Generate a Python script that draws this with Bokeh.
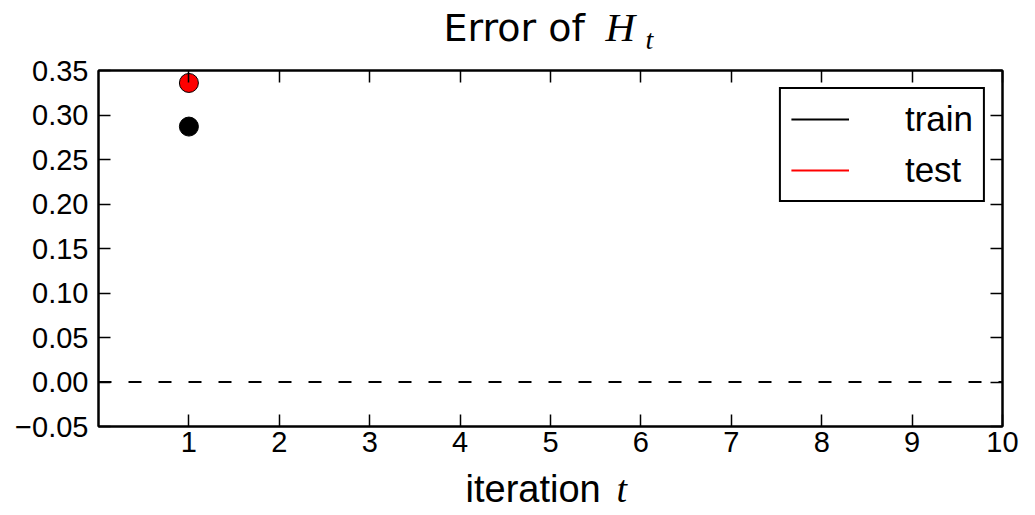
from bokeh.plotting import figure
from bokeh.layouts import column
from bokeh.models import (Range1d, FixedTicker, LinearAxis, Span, Legend, LegendItem,
                          CustomJSTickFormatter)
from bokeh.core.properties import value
from bokeh.embed import file_html
from bokeh.resources import INLINE

# ---- data ----
iterations = [1]
train_error = [0.287]
test_error = [0.336]
zero_level = 0.0

x_ticks = [1, 2, 3, 4, 5, 6, 7, 8, 9, 10]
y_ticks = [-0.05, 0.0, 0.05, 0.10, 0.15, 0.20, 0.25, 0.30, 0.35]
y_tick_labels = ["\u22120.05", "0.00", "0.05", "0.10", "0.15", "0.20", "0.25", "0.30", "0.35"]

title_parts = ["Error of", "H", "t"]
xlabel_parts = ["iteration", "t"]

W, H = 1035, 515
TH, XH = 55, 50          # heights of title strip and x-label strip
MH = H - TH - XH         # main figure height
FL, FR, FT, FB = 98, 1002, 70, 426  # frame edges in page pixels (from top-left)
FONT = "Liberation Sans"
TFONT = "DejaVu Sans"
SERIF = "Liberation Serif"

def strip(height):
    f = figure(width=W, height=height, output_backend="svg", toolbar_location=None,
               x_range=Range1d(FL, FR), y_range=Range1d(0, height),
               x_axis_location=None, y_axis_location=None, min_border=0,
               min_border_left=FL, min_border_right=W - FR)
    f.grid.visible = False
    f.outline_line_color = None
    f.background_fill_color = "white"
    f.border_fill_color = "white"
    return f

def txt(f, s, x, y_base_from_top, size_px, font, style="normal"):
    # svg text is drawn ~0.35em below the requested alphabetic baseline; compensate
    y = f.height - y_base_from_top + 0.35 * size_px
    f.text(x=[x], y=[y], text=[s], text_font=value(font), text_font_size=f"{size_px}px",
           text_font_style=style, text_color="black", text_align="left",
           text_baseline="alphabetic")

# ---- title strip: "Error of H_t" ----
tf = strip(TH)
txt(tf, title_parts[0], 443, 41, 38, TFONT)
txt(tf, title_parts[1], 605, 41, 41, SERIF, "italic")
txt(tf, title_parts[2], 645, 49, 28, SERIF, "italic")

# ---- main plot ----
p = figure(width=W, height=MH, output_backend="svg", toolbar_location=None,
           x_range=Range1d(0, 10), y_range=Range1d(-0.05, 0.35),
           min_border_left=FL, min_border_right=W - FR, min_border_top=FT - TH,
           min_border_bottom=(TH + MH) - FB,
           x_axis_location=None, y_axis_location=None)
p.grid.visible = False
p.outline_line_color = "black"
p.outline_line_width = 2
p.background_fill_color = "white"
p.border_fill_color = "white"

def make_axis(ticks, show_labels, overrides=None):
    ax = LinearAxis(ticker=FixedTicker(ticks=ticks))
    ax.axis_line_color = "black"
    ax.axis_line_width = 2
    ax.major_tick_in = 12
    ax.major_tick_out = 0
    ax.major_tick_line_width = 1.5
    ax.major_tick_line_color = "black"
    ax.minor_tick_line_color = None
    ax.major_label_text_font = FONT
    ax.major_label_text_color = "black"
    ax.major_label_text_font_size = "29px"
    if show_labels:
        ax.major_label_standoff = 5
    else:
        ax.formatter = CustomJSTickFormatter(code="return ''")
        ax.major_label_standoff = 0
    if overrides:
        ax.major_label_overrides = overrides
    return ax

bottom = make_axis(x_ticks, True)
left = make_axis(y_ticks, True, {t: s for t, s in zip(y_ticks, y_tick_labels)})
left.major_label_standoff = 10
top = make_axis(x_ticks, False)
right = make_axis(y_ticks, False)
p.add_layout(bottom, "below")
p.add_layout(left, "left")
p.add_layout(top, "above")
p.add_layout(right, "right")

p.add_layout(Span(location=zero_level, dimension="width", line_color="black",
                  line_width=2, line_dash="13 17"))

# legend-only lines (a single-point line draws nothing)
l_train = p.line(iterations, train_error, line_color="black", line_width=2)
l_test = p.line(iterations, test_error, line_color="red", line_width=2)

p.scatter(iterations, train_error, size=19, fill_color="black", line_color="black", line_width=1)
p.scatter(iterations, test_error, size=19, fill_color="red", line_color="black", line_width=1)

legend = Legend(items=[LegendItem(label="train", renderers=[l_train]),
                       LegendItem(label="test", renderers=[l_test])],
                location="top_right")
legend.margin = 17
legend.padding = 10
legend.spacing = 11
legend.glyph_width = 58
legend.glyph_height = 30
legend.label_height = 30
legend.label_standoff = 56
legend.label_text_font = FONT
legend.label_text_font_size = "35px"
legend.label_text_color = "black"
legend.border_line_color = "black"
legend.border_line_alpha = 1
legend.border_line_width = 2
legend.background_fill_alpha = 1
p.add_layout(legend, "center")

# ---- x-label strip: "iteration t" ----
xf = strip(XH)
xb = 502 - (TH + MH)
txt(xf, xlabel_parts[0], 465, xb, 38, FONT)
txt(xf, xlabel_parts[1], 616, xb, 38, SERIF, "italic")

layout = column(tf, p, xf, spacing=0)
open("out.html", "w").write(file_html(layout, INLINE))
